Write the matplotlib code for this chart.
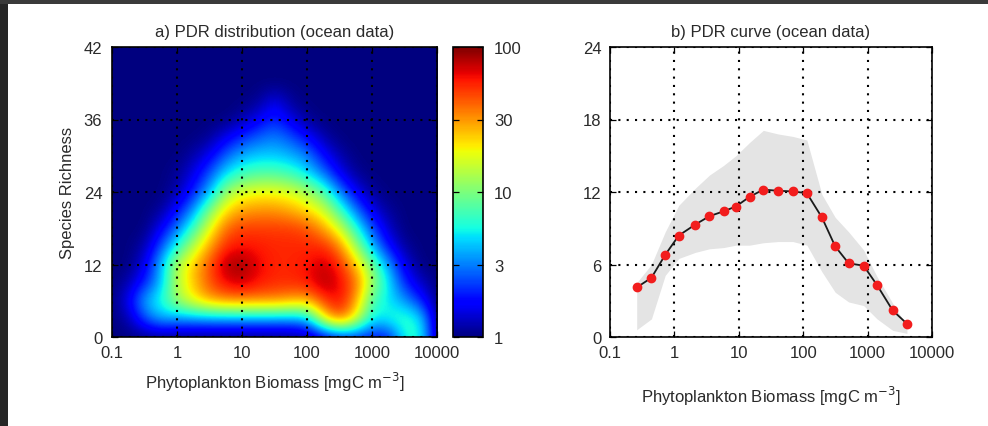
import numpy as np
import matplotlib
matplotlib.use("Agg")
import matplotlib.pyplot as plt
from matplotlib.patches import Rectangle
from matplotlib.colors import Normalize
from matplotlib.cm import ScalarMappable

plt.rcParams['font.family'] = ['Liberation Sans', 'DejaVu Sans']
plt.rcParams['font.size'] = 12
TXT = '#2a2a2a'

# ── a) heatmap: counts ──────────────────────────────────────────────────────
# columns: log10(biomass) nodes, rows: species richness nodes
heat_logx = [-1.0, -0.75, -0.5, -0.25, 0.0, 0.25, 0.5, 0.75, 1.0, 1.25, 1.5,
             1.75, 2.0, 2.25, 2.5, 2.75, 3.0, 3.25, 3.5, 3.75, 4.0]
heat_rich = [0, 3, 6, 9, 12, 15, 18, 21, 24, 27, 30, 33, 36, 39, 42, 45, 48]
heat_counts = [
    [1, 1, 1, 1, 1, 1, 1, 1, 1, 1, 1, 1, 1.1, 1.4, 1.8, 2, 1.8, 1.8, 6, 6, 1],
    [1, 1.2, 2.5, 4, 3.5, 3.5, 3.5, 3.5, 3.5, 3.5, 3.5, 3.5, 4, 20, 45, 18, 5, 6, 7, 5, 1],
    [1, 1.6, 4, 6, 12, 20, 30, 35, 35, 35, 35, 30, 28, 50, 65, 30, 7, 5, 3.5, 2, 1],
    [1, 1.2, 2, 4, 14, 25, 45, 65, 75, 60, 55, 55, 60, 85, 65, 40, 12, 5, 2, 1.3, 1],
    [1, 1, 1.5, 4, 14, 25, 45, 85, 90, 65, 55, 55, 60, 75, 55, 25, 9, 3.5, 1.5, 1, 1],
    [1, 1, 1.2, 2.5, 6, 14, 30, 55, 60, 58, 55, 55, 55, 55, 35, 12, 4, 1.8, 1.1, 1, 1],
    [1, 1, 1, 1.6, 3, 7, 18, 40, 50, 50, 50, 50, 45, 30, 16, 6, 2.5, 1.3, 1, 1, 1],
    [1, 1, 1, 1.1, 1.8, 3.5, 10, 22, 30, 32, 32, 28, 22, 16, 7, 3, 1.5, 1.1, 1, 1, 1],
    [1, 1, 1, 1, 1.2, 2, 4, 12, 17, 19, 19, 17, 13, 8, 3.2, 1.6, 1.1, 1, 1, 1, 1],
    [1, 1, 1, 1, 1.1, 1.5, 2.6, 5, 7, 8, 8, 7, 5, 3, 1.6, 1.1, 1, 1, 1, 1, 1],
    [1, 1, 1, 1, 1, 1.2, 1.6, 2.8, 4, 4.5, 4.5, 4, 3.2, 1.8, 1.2, 1, 1, 1, 1, 1, 1],
    [1, 1, 1, 1, 1, 1, 1.1, 1.6, 2.2, 2.8, 3.2, 2.6, 1.8, 1.2, 1, 1, 1, 1, 1, 1, 1],
    [1, 1, 1, 1, 1, 1, 1, 1, 1.2, 1.6, 2.2, 1.5, 1.1, 1, 1, 1, 1, 1, 1, 1, 1],
    [1, 1, 1, 1, 1, 1, 1, 1, 1, 1.1, 1.6, 1.1, 1, 1, 1, 1, 1, 1, 1, 1, 1],
    [1] * 21,
    [1] * 21,
    [1] * 21,
]
xtick_labels = ['0.1', '1', '10', '100', '1000', '10000']
rich_ticks = [0, 12, 24, 36, 48]
rich_labels = ['0', '12', '24', '36', '42']
cbar_labels = ['1', '3', '10', '30', '100']

# ── b) PDR curve ────────────────────────────────────────────────────────────
biomass = [0.26, 0.44, 0.72, 1.17, 2.1, 3.5, 5.8, 9.0, 14.7, 24, 41, 69,
           114, 195, 314, 507, 868, 1400, 2450, 4080]
richness = [4.1, 4.9, 6.8, 8.4, 9.3, 10.0, 10.4, 10.8, 11.6, 12.2, 12.1, 12.05,
            11.9, 9.9, 7.5, 6.1, 5.9, 4.3, 2.2, 1.1]
band_hi = [4.5, 6.0, 8.7, 10.9, 12.3, 13.4, 14.2, 15.0, 16.1, 17.1, 16.8, 16.6,
           16.3, 11.8, 9.9, 8.7, 7.2, 5.0, 2.8, 0.9]
band_lo = [0.6, 1.5, 5.1, 6.5, 7.0, 7.3, 7.4, 7.6, 7.6, 7.8, 7.9, 7.9,
           7.6, 5.4, 3.7, 2.9, 2.6, 1.5, 0.55, 0.3]

fig = plt.figure(figsize=(9.88, 4.27), dpi=100)
fig.patch.set_facecolor('white')
# dark screenshot border
fig.patches.append(Rectangle((0, 0), 8 / 988, 1, transform=fig.transFigure,
                             facecolor='#262626', edgecolor='none', zorder=10))
fig.patches.append(Rectangle((0, 1 - 5 / 427), 1, 5 / 427, transform=fig.transFigure,
                             facecolor='#3a3a3a', edgecolor='none', zorder=10))

H = 427.0
W = 988.0


def _style(ax):
    for sp in ax.spines.values():
        sp.set_linewidth(1.2)
        sp.set_color('black')
    ax.tick_params(direction='in', length=4, width=0.9, top=True, right=True,
                   labelcolor=TXT, labelsize=12)
    ax.grid(True, color='black', linestyle=(0, (1, 3)), linewidth=1.5)


# ── panel a ─────────────────────────────────────────────────────────────────
ax1 = fig.add_axes([112 / W, 1 - 338 / H, 325 / W, 290 / H])
dx = (heat_logx[1] - heat_logx[0]) / 2
dy = (heat_rich[1] - heat_rich[0]) / 2
img = ax1.imshow(np.log10(np.array(heat_counts)), origin='lower', aspect='auto',
                 cmap='jet', vmin=0, vmax=2, interpolation='bicubic',
                 extent=[heat_logx[0] - dx, heat_logx[-1] + dx,
                         heat_rich[0] - dy, heat_rich[-1] + dy])
ax1.set_xlim(heat_logx[0], heat_logx[-1])
ax1.set_ylim(0, 48)
ax1.set_xticks(np.arange(-1, 5))
ax1.set_xticklabels(xtick_labels)
ax1.set_yticks(rich_ticks)
ax1.set_yticklabels(rich_labels)
_style(ax1)
ax1.tick_params(axis='x', pad=6)
ax1.tick_params(axis='y', pad=7)
ax1.set_title('a) PDR distribution (ocean data)', color=TXT, fontsize=12, pad=8)
ax1.set_xlabel('Phytoplankton Biomass [mgC m$^{-3}$]', color=TXT, fontsize=12,
               labelpad=7)
ax1.set_ylabel('Species Richness', color=TXT, fontsize=12, labelpad=6)

# colour bar
cax = fig.add_axes([453 / W, 1 - 338 / H, 30 / W, 290 / H])
cb = fig.colorbar(ScalarMappable(norm=Normalize(0, 2), cmap='jet'), cax=cax)
cb.set_ticks([0, 0.5, 1, 1.5, 2])
cb.set_ticklabels(cbar_labels)
cb.outline.set_linewidth(1.2)
cax.tick_params(direction='in', length=4, width=0.9, left=True, right=True,
                labelcolor=TXT, labelsize=12, pad=8)

# ── panel b ─────────────────────────────────────────────────────────────────
ax2 = fig.add_axes([610 / W, 1 - 338 / H, 322 / W, 290 / H])
ax2.set_xscale('log')
ax2.fill_between(biomass, band_lo, band_hi, color='#e4e4e4', linewidth=0, zorder=1)
ax2.plot(biomass, richness, color='#1a1a1a', linewidth=1.3, zorder=3)
ax2.plot(biomass, richness, linestyle='none', marker='o', markersize=6,
         markerfacecolor='#f21d1d', markeredgecolor='#f21d1d', zorder=4)
ax2.set_xlim(0.1, 10000)
ax2.set_ylim(0, 24)
ax2.set_xticks([0.1, 1, 10, 100, 1000, 10000])
ax2.set_xticklabels(xtick_labels)
ax2.xaxis.set_minor_locator(matplotlib.ticker.NullLocator())
ax2.set_yticks([0, 6, 12, 18, 24])
_style(ax2)
ax2.tick_params(axis='x', pad=6)
ax2.tick_params(axis='y', pad=6)
ax2.set_title('b) PDR curve (ocean data)', color=TXT, fontsize=12, pad=8)
ax2.set_xlabel('Phytoplankton Biomass [mgC m$^{-3}$]', color=TXT, fontsize=12,
               labelpad=17)

fig.savefig('out.png', dpi=100)
